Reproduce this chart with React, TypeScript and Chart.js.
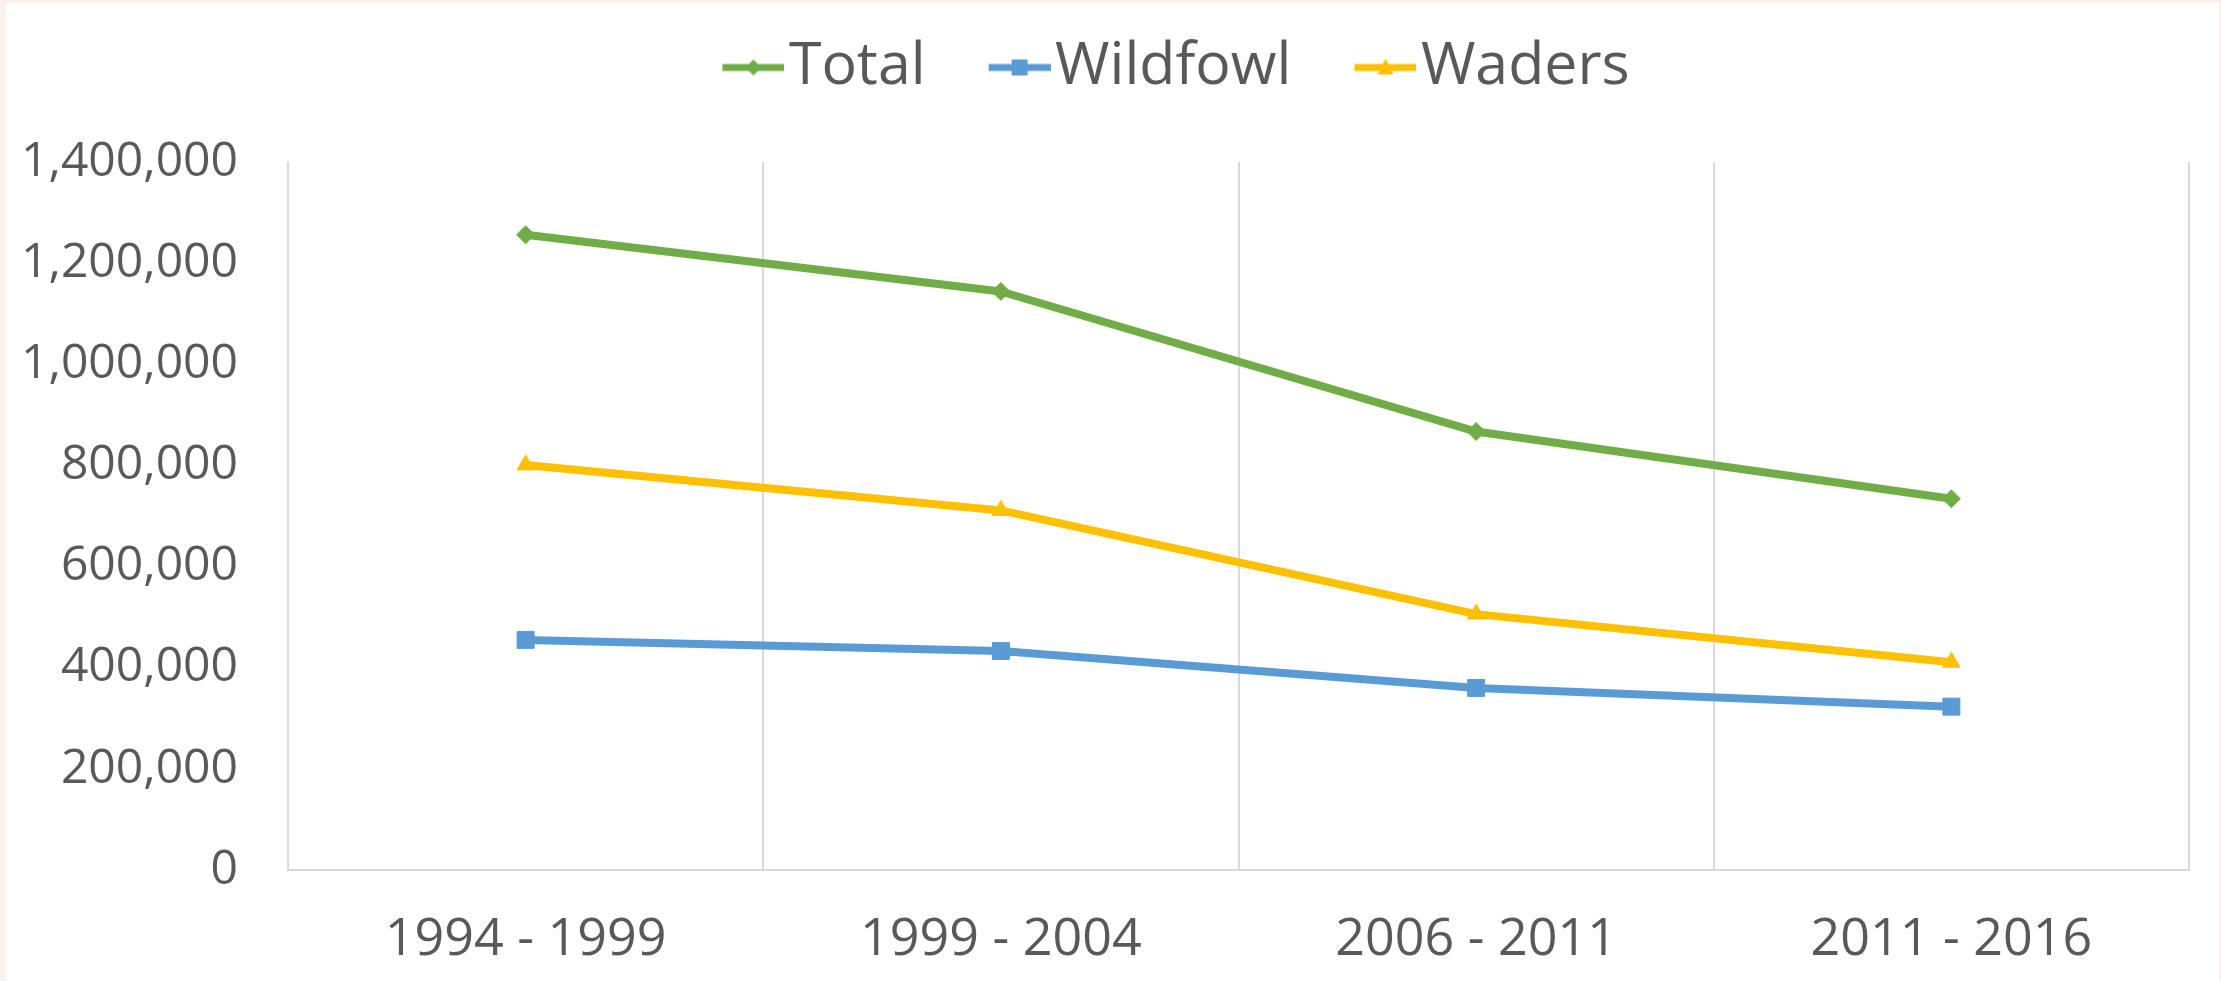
import React, { useEffect, useRef } from "react";
import { Chart, registerables } from "chart.js";

Chart.register(...registerables);

const categories = ["1994 - 1999", "1999 - 2004", "2006 - 2011", "2011 - 2016"];
const totalValues = [1256000, 1144000, 867000, 734000];
const wildfowlValues = [455000, 433000, 360000, 323000];
const wadersValues = [801000, 711000, 506000, 411000];
const seriesNames = ["Total", "Wildfowl", "Waders"];
const seriesColors = ["#70AD47", "#5B9BD5", "#FFC000"];
const seriesMarkers = ["rectRot", "rect", "triangle"];
const yMin = 0;
const yMax = 1400000;
const yStep = 200000;

const FONT = "'Open Sans', 'Liberation Sans', sans-serif";
const TEXT = "#595959";
const GRID = "#D9D9D9";

function legendIcon(color: string, marker: string): HTMLCanvasElement {
  const c = document.createElement("canvas");
  c.width = 140;
  c.height = 24;
  const ctx = c.getContext("2d")!;
  ctx.strokeStyle = color;
  ctx.fillStyle = color;
  ctx.lineWidth = 7;
  ctx.lineCap = "butt";
  ctx.beginPath();
  ctx.moveTo(78, 12);
  ctx.lineTo(140, 12);
  ctx.stroke();
  const cx = 109, cy = 12;
  ctx.beginPath();
  if (marker === "rectRot") {
    ctx.moveTo(cx, cy - 8);
    ctx.lineTo(cx + 8, cy);
    ctx.lineTo(cx, cy + 8);
    ctx.lineTo(cx - 8, cy);
  } else if (marker === "rect") {
    ctx.rect(cx - 8, cy - 8, 16, 16);
  } else {
    ctx.moveTo(cx, cy - 9);
    ctx.lineTo(cx + 8, cy + 7);
    ctx.lineTo(cx - 8, cy + 7);
  }
  ctx.closePath();
  ctx.fill();
  return c;
}

const legendSpacer = {
  id: "legendSpacer",
  beforeInit(chart: any) {
    const orig = chart.legend.fit;
    chart.legend.fit = function () {
      orig.call(this);
      this.height = 134;
    };
  },
  afterLayout(chart: any) {
    const lg = chart.legend;
    if (lg) {
      lg.left += 52;
      lg.right += 52;
    }
  },
};

export default function App() {
  const ref = useRef<HTMLCanvasElement>(null);
  useEffect(() => {
    const icons = seriesColors.map((c, i) => legendIcon(c, seriesMarkers[i]));
    const dataSets = [totalValues, wildfowlValues, wadersValues];
    const radii = [9, 12, 10];
    const chart = new Chart(ref.current!, {
      type: "line",
      data: {
        labels: categories,
        datasets: dataSets.map((d, i) => ({
          label: seriesNames[i],
          data: d,
          borderColor: seriesColors[i],
          backgroundColor: seriesColors[i],
          borderWidth: 8,
          borderJoinStyle: "round" as const,
          borderCapStyle: "round" as const,
          pointStyle: seriesMarkers[i] as any,
          pointRadius: radii[i],
          pointBorderWidth: 1,
          pointBorderColor: seriesColors[i],
          pointBackgroundColor: seriesColors[i],
          tension: 0,
          fill: false,
        })),
      },
      options: {
        animation: false,
        responsive: false,
        layout: { padding: { left: 0, right: 30, top: 25, bottom: 0 } },
        plugins: {
          tooltip: { enabled: false },
          legend: {
            position: "top",
            align: "center",
            labels: {
              usePointStyle: true,
              pointStyleWidth: 90,
              padding: 10,
              color: TEXT,
              font: { family: FONT, size: 59 },
              generateLabels: (ch: any) =>
                (Chart.defaults.plugins.legend.labels.generateLabels as any)(ch).map(
                  (l: any, i: number) => ({ ...l, pointStyle: icons[i], rotation: 0 })
                ),
            },
          },
        },
        scales: {
          x: {
            offset: true,
            grid: { display: true, offset: true, color: GRID, lineWidth: 2, drawTicks: false },
            border: { display: true, color: GRID, width: 2 },
            ticks: { color: TEXT, font: { family: FONT, size: 52 }, padding: 39, maxRotation: 0 },
            afterFit: (s: any) => {
              s.height = 111;
            },
          },
          y: {
            min: yMin,
            max: yMax,
            grid: { display: false, drawTicks: false },
            border: { display: false },
            ticks: {
              stepSize: yStep,
              color: TEXT,
              font: { family: FONT, size: 48 },
              padding: 50,
              callback: (v: any) => Number(v).toLocaleString("en-US"),
            },
            afterFit: (s: any) => {
              s.width = 282;
            },
          },
        },
      },
      plugins: [legendSpacer],
    } as any);
    return () => chart.destroy();
  }, []);
  return (
    <div style={{ position: "absolute", left: 0, top: 0, width: 2221, height: 981, background: "#FAF1EA" }}>
      <div style={{ position: "absolute", left: 6, top: 3, width: 2213, height: 978, background: "#FFFFFF" }}>
        <canvas ref={ref} width={2213} height={978} style={{ display: "block" }} />
      </div>
    </div>
  );
}
